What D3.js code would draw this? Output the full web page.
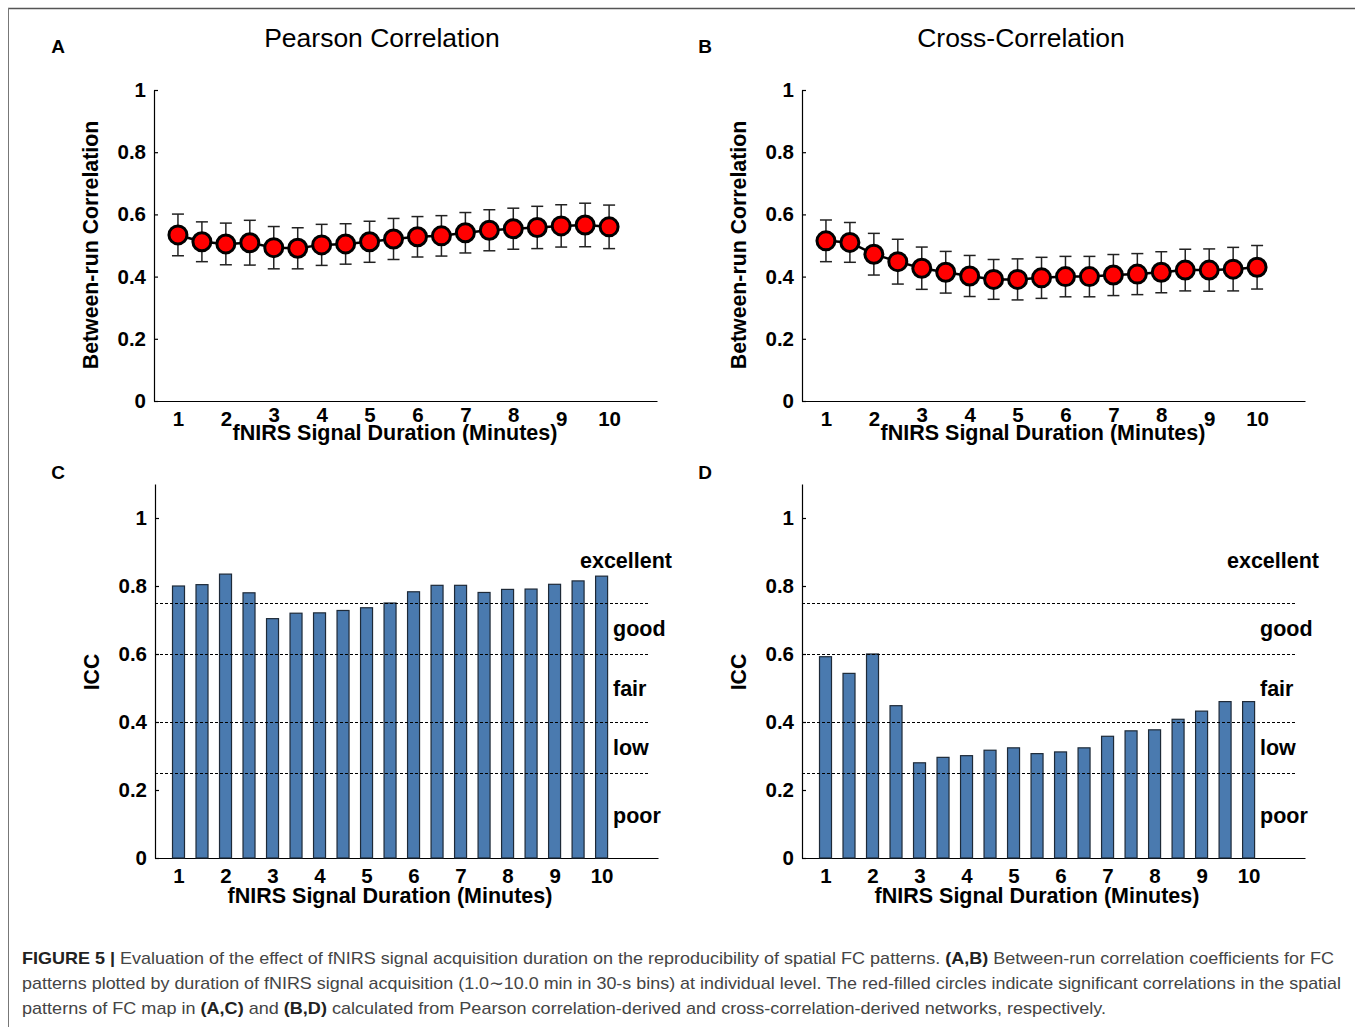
<!DOCTYPE html>
<html>
<head>
<meta charset="utf-8">
<script src="https://cdn.jsdelivr.net/npm/d3@7"></script>
<style>
  body { margin: 0; background: #fff; }
  svg { font-family: "Liberation Sans", Arial, sans-serif; }
</style>
</head>
<body>
<div id="figure"></div>
<script>
// Durations in minutes (1.0 to 10.0 in 30-s bins)
var durations = [1, 1.5, 2, 2.5, 3, 3.5, 4, 4.5, 5, 5.5, 6, 6.5, 7, 7.5, 8, 8.5, 9, 9.5, 10];
var xTickValues = [1, 2, 3, 4, 5, 6, 7, 8, 9, 10];
var yTickValues = [0, 0.2, 0.4, 0.6, 0.8, 1];

// Panel A: Pearson correlation, between-run correlation (mean and error)
var pearsonMean = [0.534, 0.512, 0.505, 0.509, 0.493, 0.491, 0.502, 0.505, 0.512, 0.521,
  0.528, 0.531, 0.541, 0.549, 0.554, 0.558, 0.563, 0.566, 0.560];
var pearsonErr = [0.067, 0.064, 0.067, 0.072, 0.068, 0.066, 0.066, 0.065, 0.066, 0.066,
  0.065, 0.065, 0.065, 0.066, 0.066, 0.068, 0.068, 0.070, 0.070];

// Panel B: Cross-correlation, between-run correlation (mean and error)
var crossMean = [0.515, 0.510, 0.472, 0.448, 0.427, 0.414, 0.402, 0.391, 0.391, 0.396,
  0.400, 0.400, 0.405, 0.408, 0.414, 0.421, 0.421, 0.424, 0.430];
var crossErr = [0.067, 0.064, 0.067, 0.072, 0.068, 0.067, 0.066, 0.064, 0.066, 0.066,
  0.065, 0.065, 0.066, 0.066, 0.066, 0.067, 0.068, 0.070, 0.070];

// Panel C and D: ICC values
var pearsonICC = [0.800, 0.804, 0.835, 0.780, 0.704, 0.720, 0.721, 0.728, 0.736, 0.750,
  0.783, 0.802, 0.802, 0.781, 0.790, 0.791, 0.805, 0.815, 0.829];
var crossICC = [0.592, 0.543, 0.600, 0.448, 0.280, 0.296, 0.301, 0.317, 0.324, 0.307,
  0.312, 0.324, 0.358, 0.374, 0.377, 0.408, 0.432, 0.460, 0.460];

// ICC reliability thresholds and category names
var iccThresholds = [0.25, 0.4, 0.6, 0.75];
var iccBounds = [0, 0.25, 0.4, 0.6, 0.75, 1];
var iccCategories = ["poor", "low", "fair", "good", "excellent"];

var svg = d3.select("#figure")
  .append("svg")
  .attr("width", 1355)
  .attr("height", 1027);

// Outer frame of the figure
svg.append("line")
  .attr("x1", 8).attr("y1", 8.5).attr("x2", 1355).attr("y2", 8.5)
  .attr("stroke", "#555").attr("stroke-width", 1.5);
svg.append("line")
  .attr("x1", 8.5).attr("y1", 8).attr("x2", 8.5).attr("y2", 1027)
  .attr("stroke", "#777").attr("stroke-width", 1);

// Panel letters
[["A", 58, 53], ["B", 705, 53], ["C", 58, 479], ["D", 705, 479]].forEach(function(p) {
  svg.append("text")
    .attr("x", p[1]).attr("y", p[2])
    .attr("text-anchor", "middle")
    .attr("font-size", 19).attr("font-weight", "bold")
    .text(p[0]);
});

// Style an axis group like the MATLAB output
function styleAxis(g) {
  g.select(".domain").attr("stroke", "#000").attr("stroke-width", 1.2);
  g.selectAll(".tick line").attr("stroke", "#000").attr("stroke-width", 1.2);
  g.selectAll(".tick text")
    .attr("font-size", 20.5)
    .attr("font-weight", "bold")
    .attr("fill", "#000")
    .attr("font-family", "Liberation Sans, Arial, sans-serif");
}

function yFormat(d) { return d === 0 ? "0" : d === 1 ? "1" : d3.format(".1f")(d); }

// Draw a panel with red circles and error bars
function drawPointPanel(opt) {
  var x = d3.scaleLinear().domain([0.5, 11]).range([opt.left, opt.left + 503]);
  var y = d3.scaleLinear().domain([0, 1]).range([401, 90]);

  // Title
  svg.append("text")
    .attr("x", opt.titleX).attr("y", 47)
    .attr("text-anchor", "middle")
    .attr("font-size", 26.5)
    .text(opt.title);

  // y axis
  var gy = svg.append("g")
    .attr("transform", "translate(" + opt.left + ",0)")
    .call(d3.axisLeft(y).tickValues(yTickValues).tickFormat(yFormat)
      .tickSizeInner(-4).tickSizeOuter(0).tickPadding(8));
  styleAxis(gy);

  // x axis
  var gx = svg.append("g")
    .attr("transform", "translate(0,401)")
    .call(d3.axisBottom(x).tickValues(xTickValues).tickSize(0).tickPadding(10));
  styleAxis(gx);
  gx.selectAll(".tick text")
    .attr("dy", function(d) { return (d >= 3 && d <= 8) ? "0.56em" : "0.71em"; });

  // Axis titles
  svg.append("text")
    .attr("x", opt.left + 241).attr("y", 440)
    .attr("text-anchor", "middle")
    .attr("font-size", 21.5).attr("font-weight", "bold")
    .text("fNIRS Signal Duration (Minutes)");
  svg.append("text")
    .attr("transform", "translate(" + (opt.left - 56) + ",245) rotate(-90)")
    .attr("text-anchor", "middle")
    .attr("font-size", 21.3).attr("font-weight", "bold")
    .text("Between-run Correlation");

  var points = durations.map(function(d, i) {
    return { t: d, m: opt.mean[i], e: opt.err[i] };
  });

  // Error bars
  var eb = svg.append("g").attr("stroke", "#222").attr("stroke-width", 1.5);
  points.forEach(function(p) {
    eb.append("line")
      .attr("x1", x(p.t)).attr("x2", x(p.t))
      .attr("y1", y(p.m + p.e)).attr("y2", y(p.m - p.e));
    [p.m + p.e, p.m - p.e].forEach(function(v) {
      eb.append("line")
        .attr("x1", x(p.t) - 6).attr("x2", x(p.t) + 6)
        .attr("y1", y(v)).attr("y2", y(v));
    });
  });

  // Connecting line
  svg.append("path")
    .datum(points)
    .attr("fill", "none")
    .attr("stroke", "#000")
    .attr("stroke-width", 2.5)
    .attr("d", d3.line().x(function(p) { return x(p.t); }).y(function(p) { return y(p.m); }));

  // Red circles
  svg.selectAll(null)
    .data(points)
    .enter().append("circle")
    .attr("cx", function(p) { return x(p.t); })
    .attr("cy", function(p) { return y(p.m); })
    .attr("r", 9)
    .attr("fill", "#ff0000")
    .attr("stroke", "#000")
    .attr("stroke-width", 3);
}

// Draw an ICC bar panel with reliability bands
function drawBarPanel(opt) {
  var x = d3.scaleLinear().domain([0.5, 11.2]).range([opt.left, opt.left + 503]);
  var y = d3.scaleLinear().domain([0, 1.1]).range([858, 484]);

  // y axis
  var gy = svg.append("g")
    .attr("transform", "translate(" + opt.left + ",0)")
    .call(d3.axisLeft(y).tickValues(yTickValues).tickFormat(yFormat)
      .tickSizeInner(-4).tickSizeOuter(0).tickPadding(8));
  styleAxis(gy);

  // x axis
  var gx = svg.append("g")
    .attr("transform", "translate(0,858)")
    .call(d3.axisBottom(x).tickValues(xTickValues).tickSize(0).tickPadding(10));
  styleAxis(gx);

  // Axis titles
  svg.append("text")
    .attr("x", opt.left + 235).attr("y", 903)
    .attr("text-anchor", "middle")
    .attr("font-size", 21.5).attr("font-weight", "bold")
    .text("fNIRS Signal Duration (Minutes)");
  svg.append("text")
    .attr("transform", "translate(" + (opt.left - 56) + ",672) rotate(-90)")
    .attr("text-anchor", "middle")
    .attr("font-size", 21.3).attr("font-weight", "bold")
    .text("ICC");

  // Bars
  var bw = 12;
  svg.selectAll(null)
    .data(durations)
    .enter().append("rect")
    .attr("x", function(d) { return x(d) - bw / 2; })
    .attr("y", function(d, i) { return y(opt.values[i]); })
    .attr("width", bw)
    .attr("height", function(d, i) { return y(0) - y(opt.values[i]); })
    .attr("fill", "#4a7aaf")
    .attr("stroke", "#1e2a38")
    .attr("stroke-width", 1.2);

  // Threshold dashed lines
  svg.selectAll(null)
    .data(iccThresholds)
    .enter().append("line")
    .attr("x1", opt.left).attr("x2", opt.left + 493)
    .attr("y1", function(d) { return Math.round(y(d)) + 0.5; })
    .attr("y2", function(d) { return Math.round(y(d)) + 0.5; })
    .attr("stroke", "#000")
    .attr("stroke-width", 1)
    .attr("stroke-dasharray", "3,2");

  // Category labels centred in each band
  iccCategories.forEach(function(c, i) {
    var mid = (iccBounds[i] + iccBounds[i + 1]) / 2;
    svg.append("text")
      .attr("x", c === "excellent" ? opt.left + 425 : opt.left + 458)
      .attr("y", y(mid))
      .attr("dy", "0.35em")
      .attr("font-size", 21.5).attr("font-weight", "bold")
      .text(c);
  });
}

drawPointPanel({ left: 154, titleX: 382, title: "Pearson Correlation", mean: pearsonMean, err: pearsonErr });
drawPointPanel({ left: 802, titleX: 1021, title: "Cross-Correlation", mean: crossMean, err: crossErr });
drawBarPanel({ left: 155, values: pearsonICC });
drawBarPanel({ left: 802, values: crossICC });

// Figure caption
var captionLines = [
  { y: 964, w: 1312, parts: [["FIGURE 5 | ", true], ["Evaluation of the effect of fNIRS signal acquisition duration on the reproducibility of spatial FC patterns. ", false], ["(A,B)", true], [" Between-run correlation coefficients for FC", false]] },
  { y: 989, w: 1319, parts: [["patterns plotted by duration of fNIRS signal acquisition (1.0\u223C10.0 min in 30-s bins) at individual level. The red-filled circles indicate significant correlations in the spatial", false]] },
  { y: 1014, w: 1084, parts: [["patterns of FC map in ", false], ["(A,C)", true], [" and ", false], ["(B,D)", true], [" calculated from Pearson correlation-derived and cross-correlation-derived networks, respectively.", false]] }
];
captionLines.forEach(function(line) {
  var t = svg.append("text")
    .attr("x", 22).attr("y", line.y)
    .attr("font-size", 17)
    .attr("fill", "#444")
    .attr("textLength", line.w)
    .attr("lengthAdjust", "spacingAndGlyphs");
  line.parts.forEach(function(p) {
    t.append("tspan")
      .attr("font-weight", p[1] ? "bold" : "normal")
      .attr("fill", p[1] ? "#222" : "#444")
      .text(p[0]);
  });
});
</script>
</body>
</html>
